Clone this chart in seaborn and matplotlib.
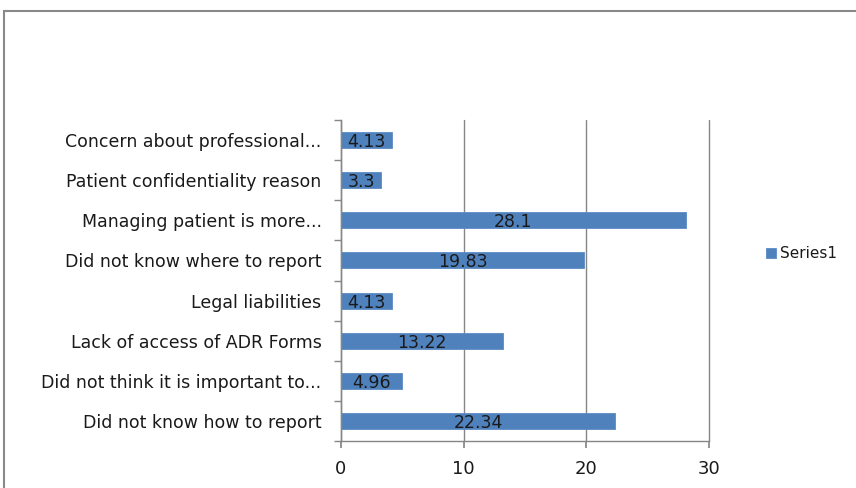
import matplotlib
matplotlib.use("Agg")
import matplotlib.pyplot as plt
from matplotlib.patches import Rectangle
from matplotlib.ticker import FixedLocator
import seaborn as sns
import pandas as pd

categories = [
    "Concern about professional...",
    "Patient confidentiality reason",
    "Managing patient is more...",
    "Did not know where to report",
    "Legal liabilities",
    "Lack of access of ADR Forms",
    "Did not think it is important to...",
    "Did not know how to report",
]
values = [4.13, 3.3, 28.1, 19.83, 4.13, 13.22, 4.96, 22.34]
value_labels = ["4.13", "3.3", "28.1", "19.83", "4.13", "13.22", "4.96", "22.34"]
series_name = "Series1"
x_ticks = [0, 10, 20, 30]

sns.set_theme(style="white")
plt.rcParams["font.family"] = ["DejaVu Sans"]

W, H = 856, 488
fig = plt.figure(figsize=(W / 100, H / 100), dpi=100)
ax = fig.add_axes([341 / W, 1 - 441 / H, (709 - 341) / W, (441 - 120) / H])

df = pd.DataFrame({"category": categories, "value": values, "series": series_name})
sns.barplot(data=df, x="value", y="category", hue="series", orient="h",
            palette=["#4F81BD"], width=0.4, ax=ax, legend=True,
            edgecolor="#5B8BC6", linewidth=0.6, saturation=1)

texts = ax.bar_label(ax.containers[0], labels=value_labels, label_type="center",
                     fontsize=12.5, color="#1a1a1a", padding=0)
for t in texts:
    t.set_verticalalignment("center_baseline")

ax.set_xlim(0, 30)
ax.set_ylim(7.5, -0.5)
ax.xaxis.set_major_locator(FixedLocator(x_ticks))
ax.set_xticklabels([str(v) for v in x_ticks])
ax.grid(axis="x", color="#868686", linewidth=1.0)
for gl in ax.get_xgridlines():
    gl.set_clip_on(False)
ax.set_axisbelow(True)
ax.set_xlabel("")
ax.set_ylabel("")

for side in ["top", "right"]:
    ax.spines[side].set_visible(False)
for side in ["left", "bottom"]:
    ax.spines[side].set_color("#868686")
    ax.spines[side].set_linewidth(1.0)

ax.tick_params(axis="x", which="major", bottom=True, length=5, color="#868686",
               labelsize=13, labelcolor="#1a1a1a", pad=9)
ax.tick_params(axis="y", which="major", left=False, labelsize=12.5,
               labelcolor="#1a1a1a", pad=8)
ax.yaxis.set_minor_locator(FixedLocator([i - 0.5 for i in range(len(categories) + 1)]))
ax.tick_params(axis="y", which="minor", left=True, length=5, color="#868686", width=1)

leg = ax.legend(loc="center left", bbox_to_anchor=(752 / W, 1 - 254 / H),
                bbox_transform=fig.transFigure, frameon=False, fontsize=11,
                handlelength=0.65, handleheight=0.65, handletextpad=0.3,
                labelcolor="#1a1a1a")

fig.patches.append(Rectangle((4 / W, -0.1), 1.2, (1 - 11 / H) + 0.1,
                             transform=fig.transFigure, fill=False,
                             edgecolor="#898989", linewidth=1.5))

fig.savefig("out.png", dpi=100)
